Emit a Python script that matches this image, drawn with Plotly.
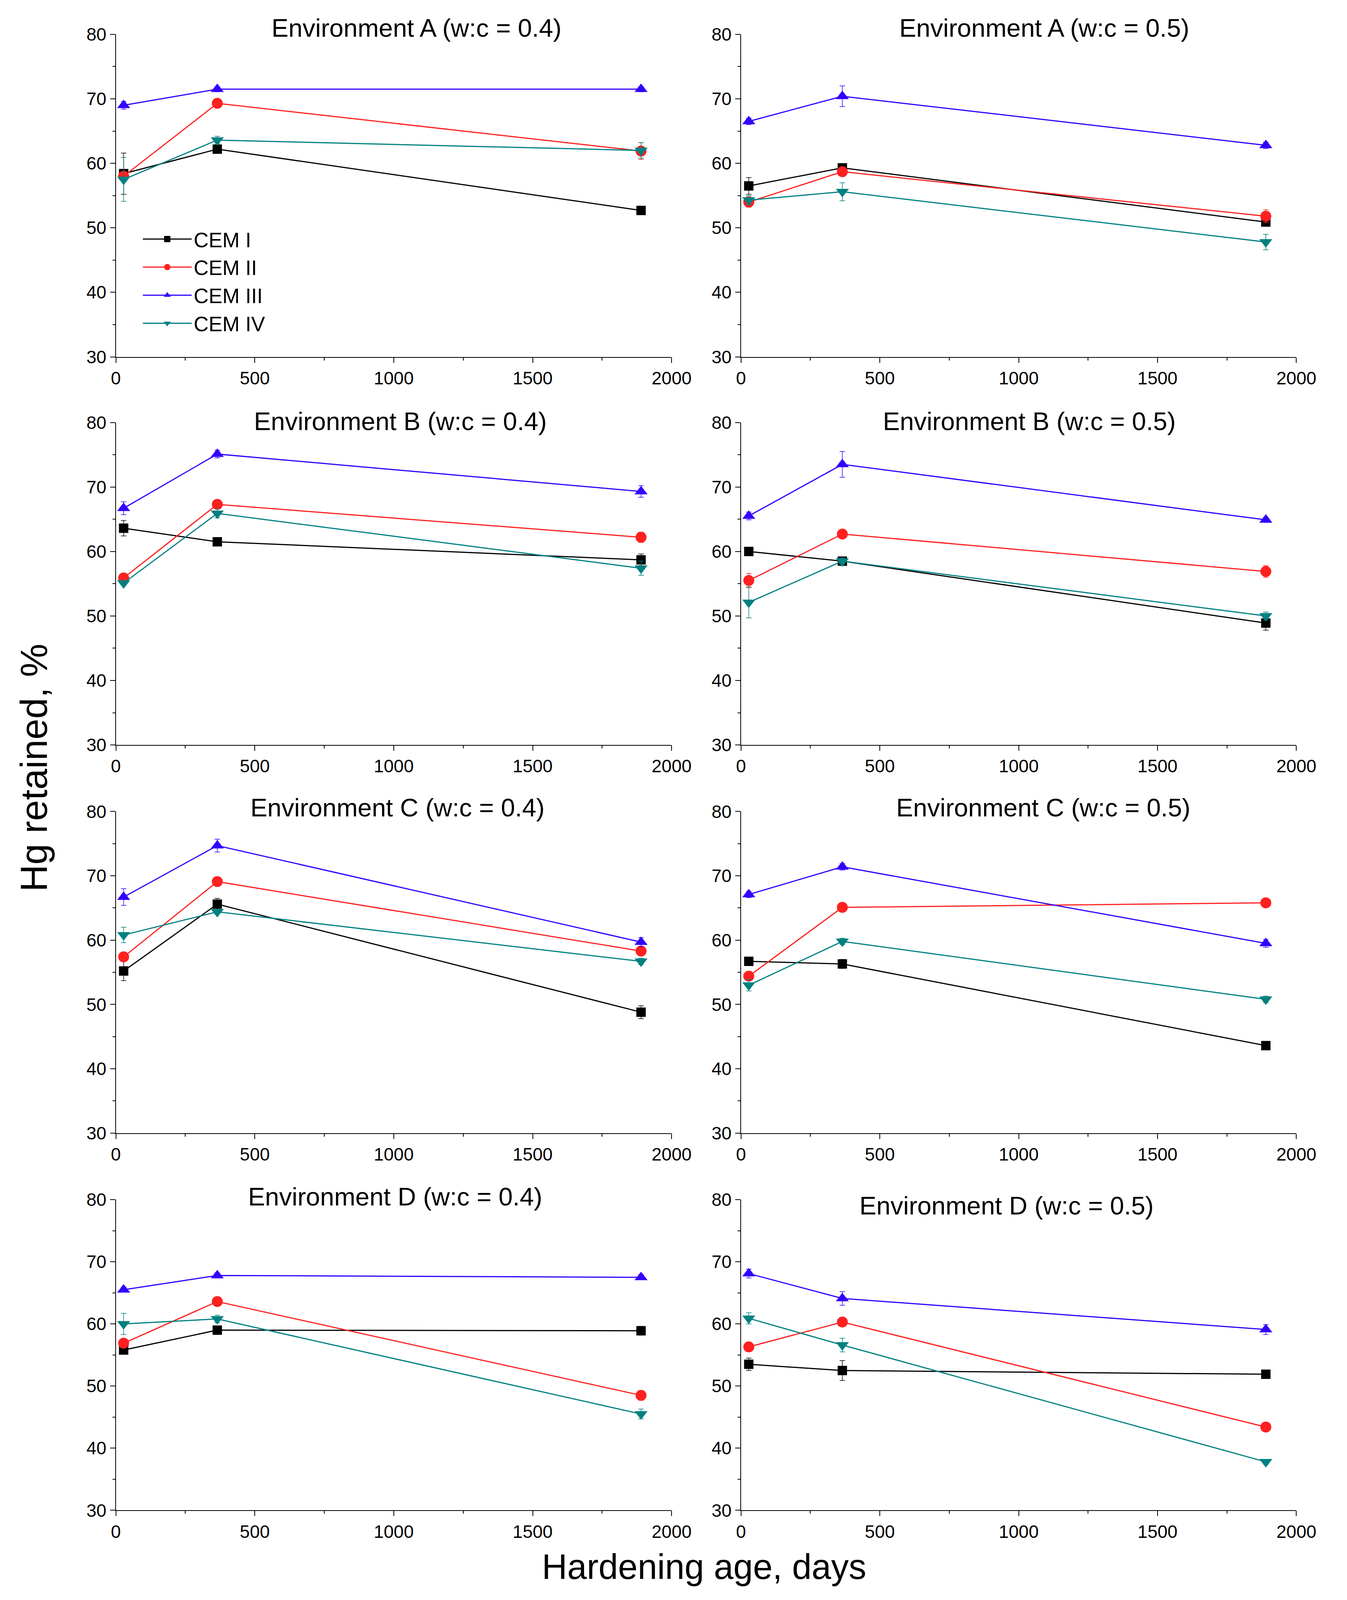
import plotly.graph_objects as go

# ---------------- data ----------------
days = [28, 365, 1890]
series_names = ["CEM I", "CEM II", "CEM III", "CEM IV"]
panel_titles = [
    "Environment A (w:c = 0.4)", "Environment A (w:c = 0.5)",
    "Environment B (w:c = 0.4)", "Environment B (w:c = 0.5)",
    "Environment C (w:c = 0.4)", "Environment C (w:c = 0.5)",
    "Environment D (w:c = 0.4)", "Environment D (w:c = 0.5)",
]

# values per panel: rows = CEM I, CEM II, CEM III, CEM IV
A04_values = [[58.4, 62.2, 52.7], [58.0, 69.3, 61.9], [69.0, 71.5, 71.5], [57.5, 63.6, 62.0]]
A04_errors = [[3.2, 0.5, 0.5], [0.4, 0.3, 1.3], [0.6, 0.4, 0.4], [3.4, 0.6, 1.2]]
A05_values = [[56.5, 59.3, 50.9], [54.0, 58.7, 51.8], [66.5, 70.4, 62.8], [54.3, 55.6, 47.8]]
A05_errors = [[1.3, 0.4, 0.5], [0.8, 0.4, 1.0], [0.5, 1.6, 0.5], [0.7, 1.4, 1.2]]
B04_values = [[63.6, 61.5, 58.7], [55.9, 67.3, 62.2], [66.7, 75.1, 69.3], [55.1, 65.9, 57.4]]
B04_errors = [[1.2, 0.6, 0.9], [0.3, 0.3, 0.8], [1.0, 0.6, 0.9], [0.3, 0.7, 1.1]]
B05_values = [[60.0, 58.5, 48.9], [55.5, 62.7, 56.9], [65.5, 73.5, 64.9], [52.1, 58.5, 50.0]]
B05_errors = [[0.3, 0.3, 1.1], [1.1, 0.3, 0.9], [0.6, 2.0, 0.4], [2.4, 0.5, 0.6]]
C04_values = [[55.2, 65.6, 48.8], [57.4, 69.1, 58.3], [66.7, 74.7, 59.7], [60.8, 64.4, 56.7]]
C04_errors = [[1.5, 0.9, 1.0], [0.3, 0.4, 0.6], [1.3, 1.0, 0.7], [1.2, 0.3, 0.5]]
C05_values = [[56.7, 56.3, 43.6], [54.4, 65.1, 65.8], [67.1, 71.4, 59.5], [53.0, 59.8, 50.8]]
C05_errors = [[0.4, 0.7, 0.3], [0.5, 0.3, 0.5], [0.5, 0.5, 0.6], [0.9, 0.5, 0.5]]
D04_values = [[55.8, 59.0, 58.9], [56.9, 63.6, 48.5], [65.5, 67.8, 67.5], [60.0, 60.8, 45.5]]
D04_errors = [[0.3, 0.3, 0.7], [0.3, 0.6, 0.8], [0.4, 0.4, 0.4], [1.7, 0.6, 0.8]]
D05_values = [[53.5, 52.5, 51.9], [56.3, 60.3, 43.4], [68.1, 64.1, 59.1], [60.9, 56.6, 37.8]]
D05_errors = [[1.0, 1.6, 0.3], [0.6, 0.7, 0.3], [0.7, 1.1, 0.8], [0.9, 1.1, 0.4]]

x_tick_vals = [0, 500, 1000, 1500, 2000]
y_tick_vals = [30, 40, 50, 60, 70, 80]

# ---------------- style / layout ----------------
W, H = 3448, 5150   # reference pixel frame used for positioning
FONT = "Liberation Sans, Arial, sans-serif"
colors = ["#000000", "#FF2020", "#3300FF", "#008080"]
symbols = ["square", "circle", "triangle-up", "triangle-down"]
msizes = [24, 28, 29, 29]


def px_x(px):
    # horizontal reference pixel -> paper fraction
    return (px / W - 0.006) * 1.01


def px_y(px):
    # vertical reference pixel (from top) -> paper fraction (from bottom)
    return 1 - (px / H - 0.0086) / 0.9824


panel_values = [A04_values, A05_values, B04_values, B05_values,
                C04_values, C05_values, D04_values, D05_values]
panel_errors = [A04_errors, A05_errors, B04_errors, B05_errors,
                C04_errors, C05_errors, D04_errors, D05_errors]

col_px = [(300, 1742), (1922, 3363)]
row_px = [(112, 1149), (1360, 2397), (2611, 3645), (3859, 4858)]
title_px = [(1080, 92), (2709, 92), (1038, 1356), (2670, 1356),
            (1031, 2598), (2706, 2598), (1025, 3849), (2611, 3878)]

fig = go.Figure()
layout = dict(
    autosize=True, paper_bgcolor="white", plot_bgcolor="white",
    margin=dict(l=0, r=0, t=0, b=0, pad=0),
    font=dict(family=FONT, color="black", size=46),
    showlegend=True,
    legend=dict(x=px_x(365), y=px_y(1093), xanchor="left", yanchor="bottom",
                bgcolor="rgba(0,0,0,0)", font=dict(size=53, family=FONT),
                itemwidth=125, tracegroupgap=0, itemsizing="trace"),
)

annotations = []
for p in range(8):
    r, c = divmod(p, 2)
    ax = "" if p == 0 else str(p + 1)
    x0, x1 = col_px[c]
    y0, y1 = row_px[r]
    axis_common = dict(showline=True, linecolor="black", linewidth=2, mirror=False,
                       showgrid=False, zeroline=False, ticks="outside", ticklen=13,
                       tickwidth=2, tickcolor="black",
                       tickfont=dict(size=46, family=FONT, color="black"))
    layout["xaxis" + ax] = dict(axis_common, domain=[px_x(x0), px_x(x1)], range=[0, 2000],
                                tickvals=x_tick_vals, anchor="y" + ax,
                                minor=dict(ticks="outside", ticklen=7, dtick=250,
                                           tickwidth=2, tickcolor="black"))
    layout["yaxis" + ax] = dict(axis_common, domain=[px_y(y1), px_y(y0)], range=[30, 80],
                                tickvals=y_tick_vals, anchor="x" + ax,
                                minor=dict(ticks="outside", ticklen=7, dtick=5,
                                           tickwidth=2, tickcolor="black"))
    for s in range(4):
        fig.add_trace(go.Scatter(
            x=days, y=panel_values[p][s], mode="lines+markers",
            name=series_names[s], legendgroup=series_names[s], showlegend=(p == 0),
            line=dict(color=colors[s], width=3),
            marker=dict(symbol=symbols[s], size=msizes[s], color=colors[s], line=dict(width=0)),
            error_y=dict(type="data", array=panel_errors[p][s], visible=True,
                         color=colors[s], thickness=1.5, width=7),
            xaxis="x" + ax, yaxis="y" + ax,
        ))
    tx, ty = title_px[p]
    annotations.append(dict(text=panel_titles[p], x=px_x(tx), y=px_y(ty), xref="paper", yref="paper",
                            xanchor="center", yanchor="middle", showarrow=False,
                            font=dict(size=65, family=FONT, color="black")))

annotations.append(dict(text="Hg retained, %", x=0.003, y=px_y(2470), xref="paper", yref="paper",
                        xanchor="left", yanchor="middle", showarrow=False, textangle=-90,
                        font=dict(size=96, family=FONT, color="black")))
annotations.append(dict(text="Hardening age, days", x=px_x(1826), y=0.0, xref="paper", yref="paper",
                        xanchor="center", yanchor="bottom", showarrow=False, borderpad=0,
                        font=dict(size=90, family=FONT, color="black")))
layout["annotations"] = annotations
fig.update_layout(**layout)
fig.write_html("out.html", config={"responsive": True},
               default_width="calc(100vw - 16px)", default_height="calc(100vh - 16px)")
